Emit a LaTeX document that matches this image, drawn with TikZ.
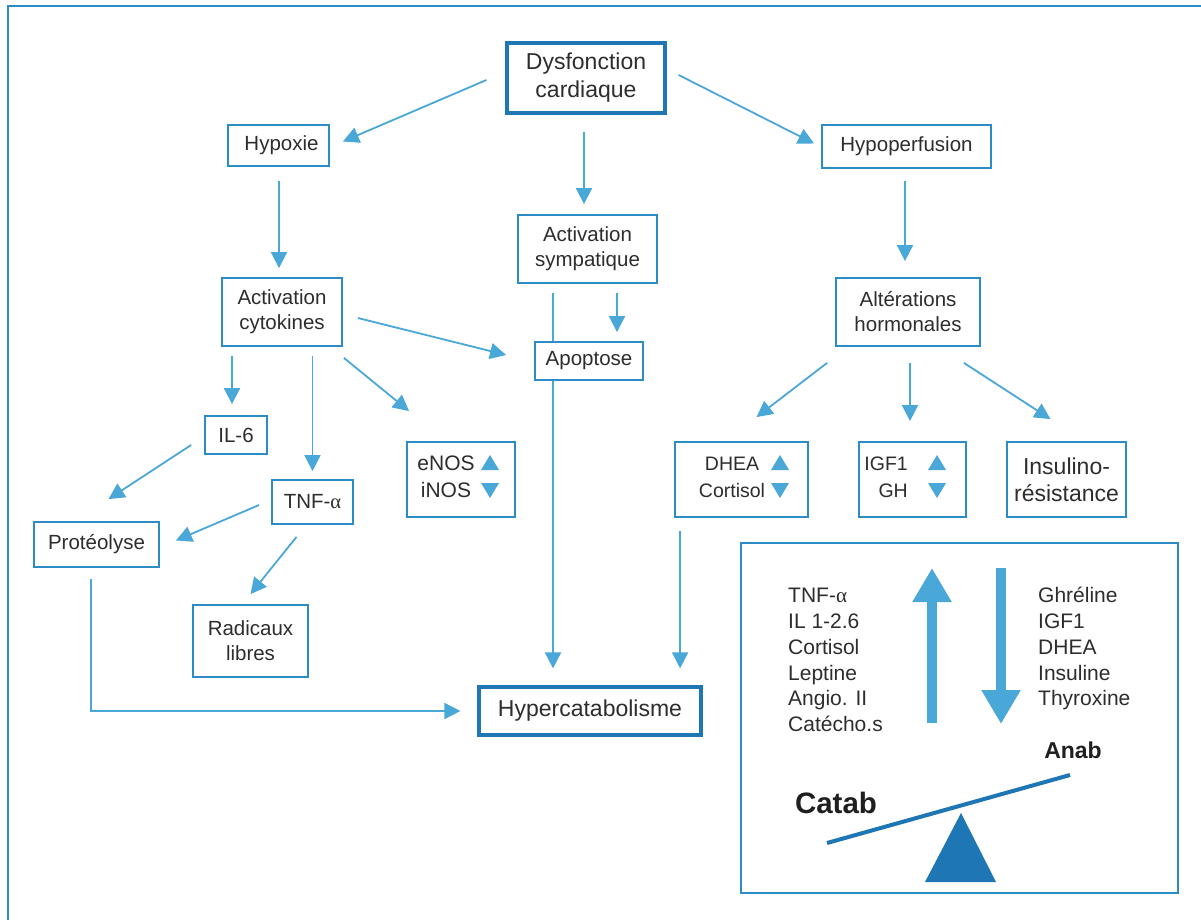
\documentclass[tikz,border=0pt]{standalone}
\usepackage{fontspec}
\setmainfont{Liberation Sans}
\newfontfamily\alphafont{Liberation Serif}
\usetikzlibrary{arrows.meta,calc,backgrounds}
\definecolor{arrowblue}{RGB}{74,168,216}
\definecolor{boxblue}{RGB}{45,140,198}
\definecolor{darkblue}{RGB}{30,118,180}
\definecolor{textgray}{RGB}{45,45,45}
\newcommand{\galpha}{{\alphafont α}}
\newcommand{\uptri}[2]{\fill[arrowblue] (#1-9,#2+7) -- (#1+9,#2+7) -- (#1,#2-8) -- cycle;}
\newcommand{\downtri}[2]{\fill[arrowblue] (#1-9,#2-7) -- (#1+9,#2-7) -- (#1,#2+8) -- cycle;}
\begin{document}
\begin{tikzpicture}[x=1pt,y=-1pt,
  box/.style={draw=boxblue, line width=1.8pt, fill=white, text=textgray, align=center, inner sep=0pt, font=\fontsize{20.5}{25}\selectfont},
  mainbox/.style={box, draw=darkblue, line width=3.2pt, font=\fontsize{23}{28}\selectfont},
  arr/.style={draw=arrowblue, line width=1.8pt, -{Triangle[length=16pt,width=16pt]}},
  txt/.style={text=textgray, inner sep=0pt, align=center, font=\fontsize{19.5}{27}\selectfont},
  listtxt/.style={text=textgray, inner sep=0pt, anchor=base west, font=\fontsize{21}{25}\selectfont},
  bigarrow/.style={draw=arrowblue, line width=10pt, -{Triangle[length=34pt,width=37pt]}}
]
\useasboundingbox (0,0) rectangle (1201,920);
\clip (0,0) rectangle (1201,920);

% boxes
\node[mainbox, minimum width=158pt, minimum height=70pt] (dys) at (586,78) {Dysfonction\\cardiaque};
\node[box, minimum width=101pt, minimum height=41pt] (hypoxie) at (278.5,145.5) {\hspace*{6pt}Hypoxie};
\node[box, minimum width=169pt, minimum height=43pt] (hypoperf) at (906.5,146.5) {Hypoperfusion};
\node[box, minimum width=139pt, minimum height=68pt] (sympa) at (587.5,249) {Activation\\sympatique};
\node[box, minimum width=120pt, minimum height=68pt] (cyto) at (282,312) {Activation\\cytokines};
\node[box, minimum width=108pt, minimum height=38pt] (apop) at (589,361) {Apoptose};
\node[box, minimum width=144pt, minimum height=68pt] (alter) at (908,312) {Altérations\\hormonales};
\node[box, minimum width=62pt, minimum height=38pt] (il6) at (236,435) {IL-6};
\node[box, minimum width=81pt, minimum height=44pt] (tnf) at (312.5,502) {TNF-\galpha};
\node[box, minimum width=115pt, minimum height=72pt] (radic) at (250.5,641) {Radicaux\\libres};
\node[box, minimum width=125pt, minimum height=45pt] (proteo) at (96.5,544.5) {Protéolyse};
\node[box, minimum width=108pt, minimum height=75pt] (nos) at (461,479.5) {};
\node[box, minimum width=133pt, minimum height=75pt] (dhea) at (741.5,479.5) {};
\node[box, minimum width=107pt, minimum height=75pt] (igf) at (912.5,479.5) {};
\node[box, minimum width=119pt, minimum height=75pt, font=\fontsize{23}{27}\selectfont] (insul) at (1066.5,479.5) {Insulino-\\résistance};
\node[mainbox, minimum width=222pt, minimum height=48pt] (hyper) at (590,711) {Hypercatabolisme};
\node[box, line width=2.2pt, minimum width=437pt, minimum height=350pt] (big) at (959.5,718) {};

% texts with triangles
\node[txt, font=\fontsize{21}{27}\selectfont] (nostext) at (446,477) {eNOS\\iNOS};
\node[txt] (dheatext) at (732,477) {DHEA\\Cortisol};
\node[txt, align=right, anchor=east] (igftext) at (908,477) {IGF1\\GH};
\uptri{490}{463}
\downtri{490}{490}
\uptri{780}{463}
\downtri{780}{490}
\uptri{937}{463}
\downtri{937}{490}

% balance box content
\draw[bigarrow] (932,723) -- (932,568);
\draw[bigarrow] (1001,568) -- (1001,724);
\node[listtxt] (l1) at (788,602.5) {TNF-\galpha};
\node[listtxt] (l2) at (788,628.5) {IL 1-2.6};
\node[listtxt] (l3) at (788,654.5) {Cortisol};
\node[listtxt] (l4) at (788,680.5) {Leptine};
\node[listtxt] (l5) at (788,705.5) {Angio. II};
\node[listtxt] (l6) at (788,731.5) {Catécho.s};
\node[listtxt] (r1) at (1038,602.5) {Ghréline};
\node[listtxt] (r2) at (1038,628.5) {IGF1};
\node[listtxt] (r3) at (1038,654.5) {DHEA};
\node[listtxt] (r4) at (1038,680.5) {Insuline};
\node[listtxt] (r5) at (1038,705.5) {Thyroxine};
\draw[darkblue, line width=4pt] (827,843) -- (1070,775);
\fill[darkblue] (961,813) -- (996,882) -- (925,882) -- cycle;
\node[inner sep=0pt, text=black!88, font=\bfseries\fontsize{23}{25}\selectfont] (anab) at (1073,750) {Anab};
\node[inner sep=0pt, text=black!88, font=\bfseries\fontsize{29.5}{31}\selectfont] (catab) at (836,803) {Catab};

\begin{scope}[on background layer]
\fill[white] (0,0) rectangle (1201,920);
\draw[boxblue, line width=2.5pt] (8,6) rectangle (1240,960);
% connectors
\draw[arr] ($(dys.west)+(-19,2)$) -- ($(hypoxie.east)+(13,-4)$);
\draw[arr] ($(dys.east)+(12,-3)$) -- ($(hypoperf.west)+(-7,-3)$);
\draw[arr, shorten <=17pt, shorten >=10pt] ([xshift=-2pt]dys.south) -- ([xshift=-2pt]dys.south |- sympa.north);
\draw[arr, shorten <=14pt, shorten >=9pt] ([xshift=0.5pt]hypoxie.south) -- ([xshift=0.5pt]hypoxie.south |- cyto.north);
\draw[arr, shorten <=12pt, shorten >=16pt] ([xshift=-1.5pt]hypoperf.south) -- ([xshift=-1.5pt]hypoperf.south |- alter.north);
\draw[arr] ($(cyto.east)+(15,6)$) -- ($(apop.west)+(-28,-6)$);
\draw[arr, shorten <=9pt, shorten >=9pt] ([xshift=29.5pt]sympa.south) -- ([xshift=29.5pt]sympa.south |- apop.north);
\draw[arr, shorten <=9pt, shorten >=17pt] ([xshift=-34.5pt]sympa.south) -- ([xshift=-34.5pt]sympa.south |- hyper.north);
\draw[arr, shorten <=9pt, shorten >=11pt] ([xshift=-4pt]il6.north |- cyto.south) -- ([xshift=-4pt]il6.north);
\draw[arr, shorten <=9pt, shorten >=8pt] (tnf.north |- cyto.south) -- (tnf.north);
\draw[arr] ($(cyto.south east)+(1,11)$) -- ($(nos.north west)+(3,-30)$);
\draw[arr] ($(il6.west)+(-13,10)$) -- ($(proteo.north)+(12,-22)$);
\draw[arr] ($(tnf.west)+(-12,3)$) -- ($(proteo.east)+(16,-4)$);
\draw[arr] ($(tnf.south)+(-16,12)$) -- ($(radic.north)+(0,-10)$);
\draw[arr, shorten <=11pt, shorten >=17pt] ([xshift=-5.5pt]proteo.south) |- (hyper.west);
\draw[arr, shorten <=13pt, shorten >=17pt] ([xshift=6pt]dhea.south west) -- ([xshift=6pt]dhea.south west |- hyper.north);
\draw[arr] ($(alter.south west)+(-8,16)$) -- ($(dhea.north)+(15,-24)$);
\draw[arr, shorten <=16pt, shorten >=20pt] ([xshift=-2.5pt]igf.north |- alter.south) -- ([xshift=-2.5pt]igf.north);
\draw[arr] ($(alter.south east)+(-17,16)$) -- ($(insul.north)+(-16,-22)$);
\end{scope}
\end{tikzpicture}
\end{document}
